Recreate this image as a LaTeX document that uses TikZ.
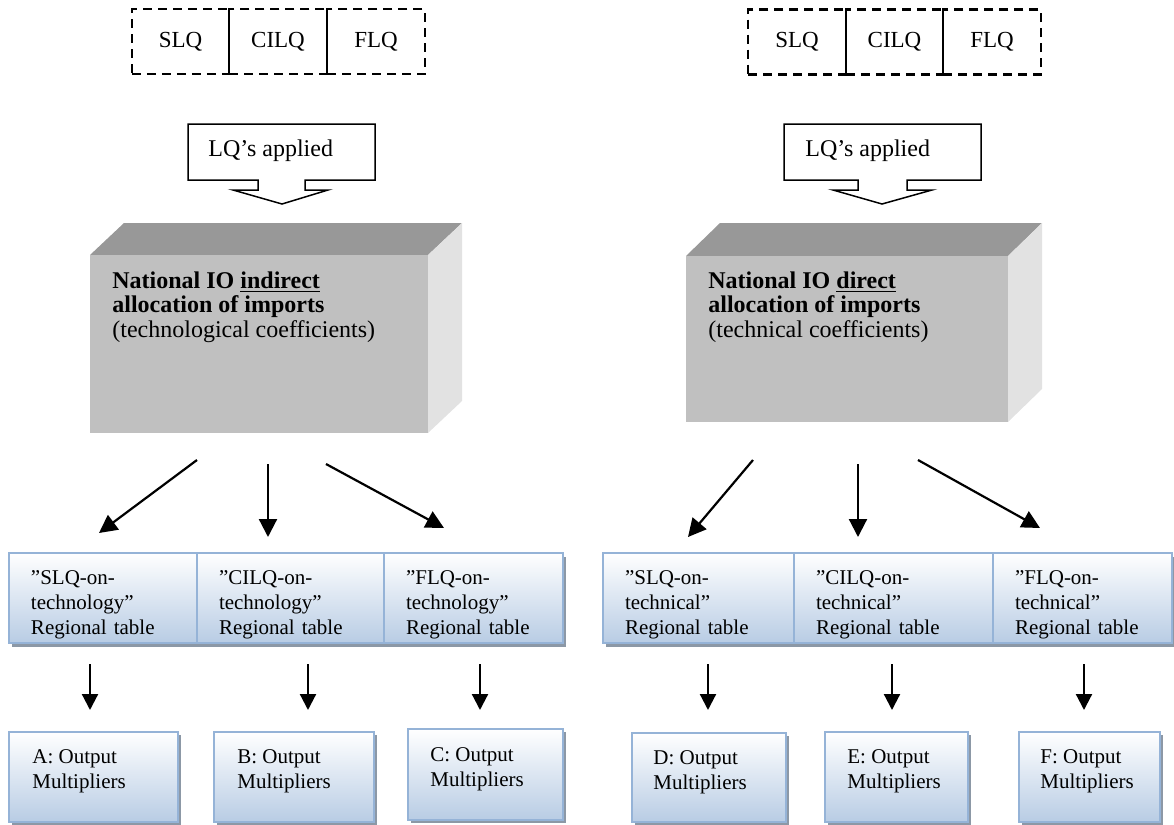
\documentclass[tikz,border=0pt]{standalone}
\usepackage{fontspec}
\setmainfont{Liberation Serif}
\usetikzlibrary{arrows.meta}

\definecolor{cellline}{RGB}{149,179,215}
\definecolor{cellfill}{RGB}{184,204,228}
\definecolor{cellshadow}{RGB}{140,152,166}
\definecolor{boxfront}{RGB}{192,192,192}
\definecolor{boxtop}{RGB}{152,152,152}
\definecolor{boxside}{RGB}{226,226,226}

\begin{document}
\begin{tikzpicture}[
  x=0.5pt, y=-0.5pt,
  every node/.style={inner sep=1pt},
  lq/.style={draw, dash pattern=on 4.5pt off 3pt, line width=1.1pt,
    minimum width=48.75pt, minimum height=32.5pt, font=\fontsize{11.5}{13}\selectfont},
  callout/.style={draw, line width=0.75pt, fill=white},
  lqtext/.style={inner sep=0pt, anchor=west, font=\fontsize{12}{13}\selectfont},
  front/.style={fill=boxfront, inner sep=0pt},
  boxtext/.style={inner sep=0pt, anchor=north west, align=left, font=\fontsize{12}{12.3}\selectfont},
  cell/.style={draw=cellline, line width=1.2pt, top color=white, bottom color=cellfill,
    minimum height=45pt, inner xsep=11pt, align=left, text height=14pt,
    font=\fontsize{10.5}{12.5}\selectfont},
  outbox/.style={draw=cellline, line width=1.2pt, top color=white, bottom color=cellfill,
    minimum height=45pt, inner sep=0pt},
  outtext/.style={inner sep=0pt, anchor=north west, align=left, font=\fontsize{10.5}{12.5}\selectfont},
  shadow/.style={fill=cellshadow},
  arrow/.style={draw, line width=1.1pt, -{Triangle[length=9pt, width=9pt]}},
  sarrow/.style={draw, line width=1.1pt, -{Triangle[length=8pt, width=8pt]}}]

  \useasboundingbox (0,0) rectangle (1174,825);

  % location quotients
  \node[lq] (slqL)  at (180.5,41.5) {SLQ};
  \node[lq] (cilqL) at (278,41.5)   {CILQ};
  \node[lq] (flqL)  at (376,41.5)   {FLQ};
  \node[lq] (slqR)  at (797,42)     {SLQ};
  \node[lq] (cilqR) at (894.5,42)   {CILQ};
  \node[lq] (flqR)  at (992,42)     {FLQ};

  % LQ's applied
  \draw[callout] (188,124) -- (375,124) -- (375,180) -- (305,180) -- (305,190) -- (328,190)
    -- (282,204) -- (233,190) -- (258,190) -- (258,180) -- (188,180) -- cycle;
  \node[lqtext] (applL) at (208,151) {LQ’s applied};
  \draw[callout] (784,124) -- (981,124) -- (981,180) -- (907,180) -- (907,190) -- (932,190)
    -- (882,204) -- (833,190) -- (858,190) -- (858,180) -- (784,180) -- cycle;
  \node[lqtext] (applR) at (805,151) {LQ’s applied};

  % national tables
  \fill[boxtop]  (90,255) -- (124,223) -- (462,223) -- (428,255) -- cycle;
  \fill[boxside] (428,255) -- (462,223) -- (462,401) -- (428,433) -- cycle;
  \node[front, minimum width=169pt, minimum height=89pt] (natL) at (259,344) {};
  \node[boxtext] (natLtext) at (112,271)
    {\textbf{National IO \underline{indirect}}\\\textbf{allocation of imports}\\(technological coefficients)};

  \fill[boxtop]  (686,256) -- (720,223) -- (1042,223) -- (1008,256) -- cycle;
  \fill[boxside] (1008,256) -- (1042,223) -- (1042,389) -- (1008,422) -- cycle;
  \node[front, minimum width=161pt, minimum height=83pt] (natR) at (847,339) {};
  \node[boxtext] (natRtext) at (708,271)
    {\textbf{National IO \underline{direct}}\\\textbf{allocation of imports}\\(technical coefficients)};

  % regional tables
  \fill[shadow] (12,557) rectangle (566,647);
  \fill[shadow] (606,557) rectangle (1176,647);
  \node[cell, text width=72pt]   (techS) at (103,598)    {”SLQ-on-\\technology”\\Regional table};
  \node[cell, text width=71.5pt] (techC) at (290.5,598)  {”CILQ-on-\\technology”\\Regional table};
  \node[cell, text width=67.5pt] (techF) at (473.5,598)  {”FLQ-on-\\technology”\\Regional table};
  \node[cell, text width=73.5pt] (tcalS) at (698.5,598)  {”SLQ-on-\\technical”\\Regional table};
  \node[cell, text width=77.5pt] (tcalC) at (893.5,598)  {”CILQ-on-\\technical”\\Regional table};
  \node[cell, text width=67.5pt] (tcalF) at (1082.5,598) {”FLQ-on-\\technical”\\Regional table};

  % output multipliers
  \foreach \xl/\xr/\yt/\yb in {9/178/732/822, 214/374/732/822, 408/563/729/820,
      632/786/733/822, 825/968/732/822, 1019/1160/732/822}
    \fill[shadow] (\xl+3,\yt+3) rectangle (\xr+3,\yb+3);
  \node[outbox, minimum width=84.5pt] (outA) at (93.5,777)   {};
  \node[outbox, minimum width=80pt]   (outB) at (294,777)    {};
  \node[outbox, minimum width=77.5pt, minimum height=45.5pt] (outC) at (485.5,774.5) {};
  \node[outbox, minimum width=77pt, minimum height=44.5pt]   (outD) at (709,777.5)   {};
  \node[outbox, minimum width=71.5pt] (outE) at (896.5,777)  {};
  \node[outbox, minimum width=70.5pt] (outF) at (1089.5,777) {};
  \node[outtext] (outAtext) at (32,749)   {A: Output\\Multipliers};
  \node[outtext] (outBtext) at (237,749)  {B: Output\\Multipliers};
  \node[outtext] (outCtext) at (430,747)  {C: Output\\Multipliers};
  \node[outtext] (outDtext) at (653,750)  {D: Output\\Multipliers};
  \node[outtext] (outEtext) at (847,749)  {E: Output\\Multipliers};
  \node[outtext] (outFtext) at (1040,749) {F: Output\\Multipliers};

  % connectors
  \coordinate (natL1) at (197,460);  \coordinate (techS1) at (99,533);
  \coordinate (natL2) at (268,464);  \coordinate (techC1) at (268,537);
  \coordinate (natL3) at (326,464);  \coordinate (techF1) at (444,528);
  \coordinate (natR1) at (753,460);  \coordinate (tcalS1) at (688,537);
  \coordinate (natR2) at (858,464);  \coordinate (tcalC1) at (858,537);
  \coordinate (natR3) at (918,460);  \coordinate (tcalF1) at (1040,528);
  \draw[arrow] (natL1) -- (techS1);
  \draw[arrow] (natL2) -- (techC1);
  \draw[arrow] (natL3) -- (techF1);
  \draw[arrow] (natR1) -- (tcalS1);
  \draw[arrow] (natR2) -- (tcalC1);
  \draw[arrow] (natR3) -- (tcalF1);

  \foreach \from/\to/\x in {techS/outA/90, techC/outB/308, techF/outC/480,
      tcalS/outD/708, tcalC/outE/892, tcalF/outF/1084} {
    \coordinate (\from2) at (\x,664);
    \coordinate (\to1) at (\x,710);
    \draw[sarrow] (\from2) -- (\to1);
  }

\end{tikzpicture}
\end{document}
